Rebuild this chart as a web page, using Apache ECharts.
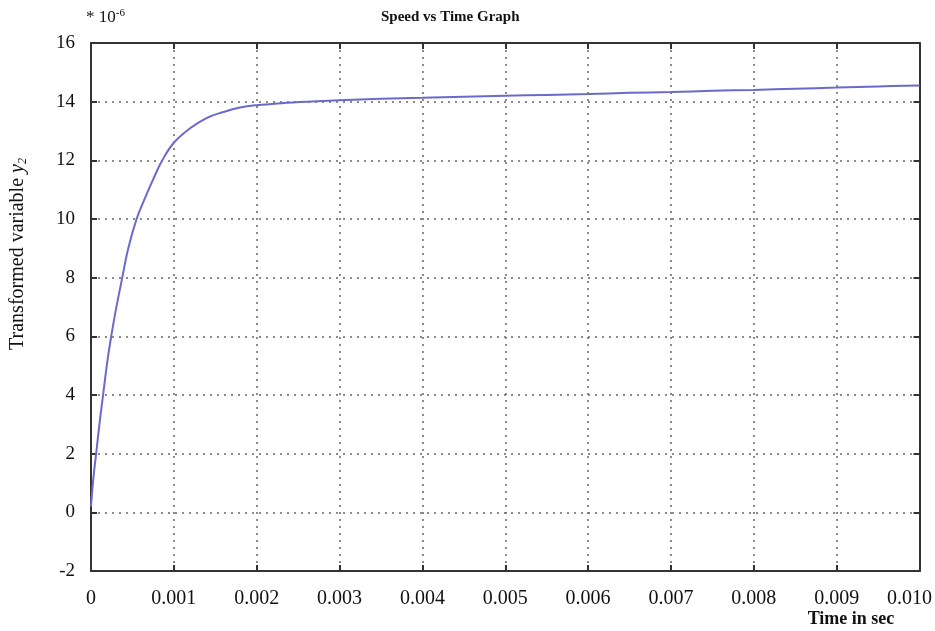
<!DOCTYPE html>
<html>
<head>
<meta charset="utf-8">
<script src="https://cdn.jsdelivr.net/npm/echarts@6/dist/echarts.min.js"></script>
<style>html,body{margin:0;padding:0;background:#fff}#c{width:935px;height:631px}</style>
</head>
<body>
<div id="c"></div>
<script>
var times = [0, 0.00003, 0.00007, 0.00011, 0.00015, 0.0002, 0.00025, 0.0003, 0.00037, 0.00045, 0.00055, 0.00065, 0.00075, 0.00086, 0.001, 0.0012, 0.0014, 0.0016, 0.0018, 0.002, 0.0023, 0.0026, 0.003, 0.0035, 0.004, 0.0045, 0.005, 0.0055, 0.006, 0.0065, 0.007, 0.0075, 0.008, 0.0085, 0.009, 0.0095, 0.01];
var values = [0.2, 1.2, 2.2, 3.2, 4.1, 5.2, 6.1, 6.9, 7.9, 9.0, 10.0, 10.7, 11.35, 12.0, 12.6, 13.1, 13.45, 13.65, 13.8, 13.88, 13.95, 14.0, 14.05, 14.1, 14.13, 14.17, 14.2, 14.23, 14.26, 14.3, 14.33, 14.37, 14.4, 14.44, 14.48, 14.52, 14.55];
var xTicks = ['0', '0.001', '0.002', '0.003', '0.004', '0.005', '0.006', '0.007', '0.008', '0.009', '0.010'];
var yTicks = [-2, 0, 2, 4, 6, 8, 10, 12, 14, 16];

var serif = 'Liberation Serif';
var chart = echarts.init(document.getElementById('c'));
var seriesData = times.map(function (t, i) { return [t, values[i]]; });
var grid = { left: 91, top: 43, right: 14, bottom: 60 };
var split = { show: true, lineStyle: { color: '#666', width: 1.5, type: [2, 5] } };
var axisLine = { show: true, onZero: false, lineStyle: { color: '#333', width: 2 } };
var tick = { show: true, inside: true, length: 6, lineStyle: { color: '#333', width: 2 } };

chart.setOption({
  animation: false,
  backgroundColor: '#fff',
  title: {
    text: 'Speed vs Time Graph',
    left: 376, top: 5,
    textStyle: { fontFamily: serif, fontSize: 15, fontWeight: 'bold', color: '#111' }
  },
  grid: grid,
  xAxis: [{
    type: 'value', min: 0, max: 0.01, interval: 0.001,
    axisLine: axisLine, axisTick: tick, splitLine: split,
    axisLabel: {
      margin: 18, color: '#111', fontFamily: serif, fontSize: 20,
      formatter: function (v) {
        var idx = Math.round(v / 0.001);
        if (idx === xTicks.length - 1) return '{last|' + xTicks[idx] + '}';
        return xTicks[idx];
      },
      rich: { last: { fontFamily: serif, fontSize: 20, color: '#111', padding: [0, 20, 0, 0] } }
    }
  }, {
    type: 'value', position: 'top', min: 0, max: 0.01, interval: 0.001,
    axisLine: axisLine, axisTick: tick, splitLine: { show: false }, axisLabel: { show: false }
  }],
  yAxis: [{
    type: 'value', min: yTicks[0], max: yTicks[yTicks.length - 1], interval: 2,
    axisLine: axisLine, axisTick: tick, splitLine: split,
    axisLabel: { margin: 16, color: '#111', fontFamily: serif, fontSize: 19 }
  }, {
    type: 'value', position: 'right', min: yTicks[0], max: yTicks[yTicks.length - 1], interval: 2,
    axisLine: axisLine, axisTick: tick, splitLine: { show: false }, axisLabel: { show: false }
  }],
  graphic: [{
    type: 'text', left: 86, top: 8,
    style: {
      text: '* 10{s|-6}', fill: '#111', font: '17px ' + serif,
      rich: { s: { fontFamily: serif, fontSize: 11, verticalAlign: 'top', padding: [0, 0, 8, 0], fill: '#111' } }
    }
  }, {
    type: 'text', x: 18, y: 254, rotation: Math.PI / 2,
    style: {
      text: 'Transformed variable {i|y}{s|2}', fill: '#111', font: '20px ' + serif,
      align: 'center', verticalAlign: 'middle',
      rich: {
        i: { fontFamily: serif, fontStyle: 'italic', fontSize: 20, fill: '#111' },
        s: { fontFamily: serif, fontStyle: 'italic', fontSize: 12, fill: '#111', padding: [10, 0, 0, 0] }
      }
    }
  }, {
    type: 'text', x: 851, y: 619,
    style: {
      text: 'Time in sec', fill: '#111', font: 'bold 18px ' + serif,
      align: 'center', verticalAlign: 'middle'
    }
  }],
  series: [{
    type: 'line', data: seriesData, showSymbol: false, smooth: 0.4,
    lineStyle: { color: '#6a6acc', width: 2 }, xAxisIndex: 0, yAxisIndex: 0
  }]
});
</script>
</body>
</html>
